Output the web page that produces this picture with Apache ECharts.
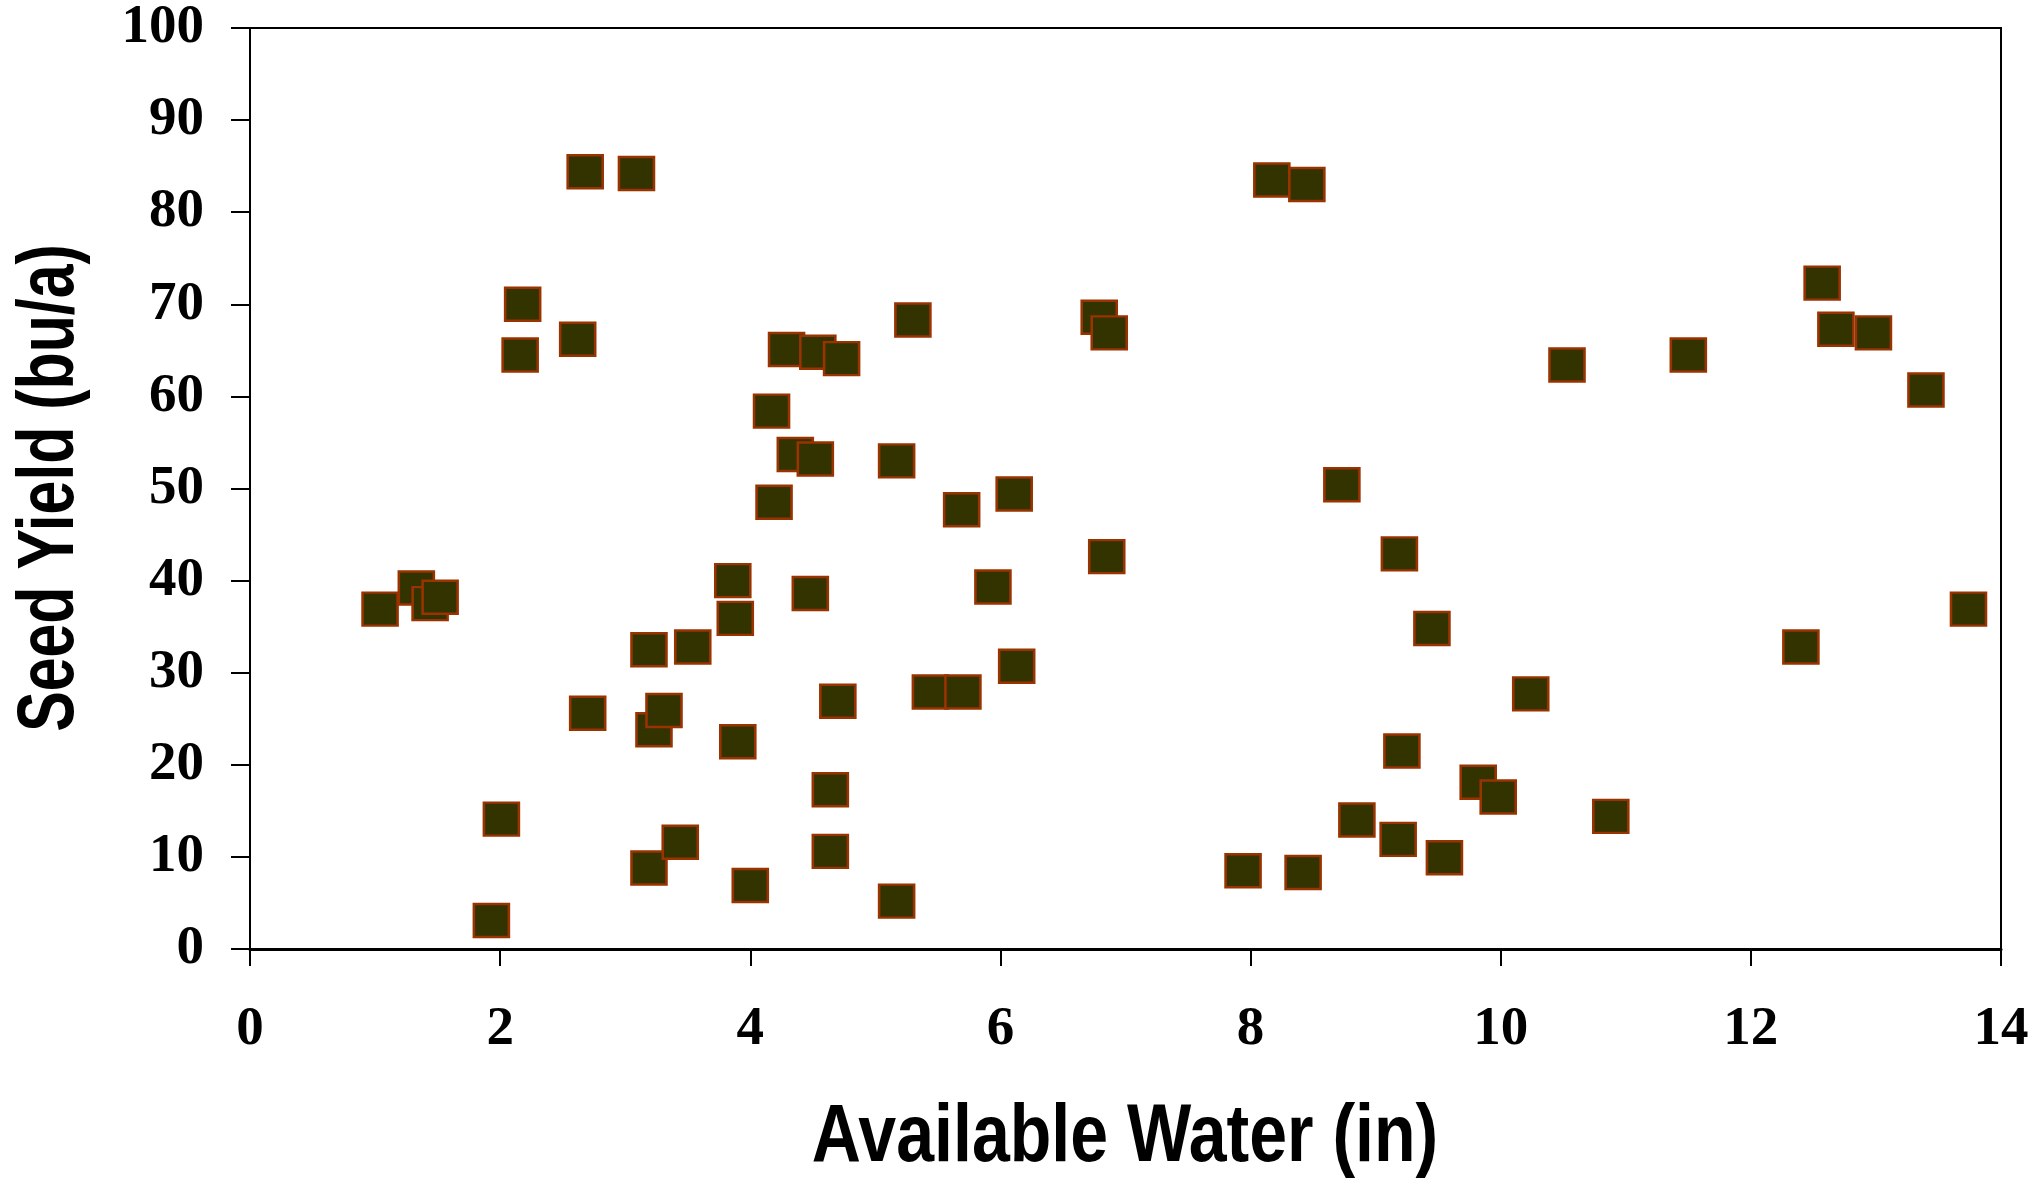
<!DOCTYPE html>
<html>
<head>
<meta charset="utf-8">
<title>Seed Yield vs Available Water</title>
<script src="https://cdn.jsdelivr.net/npm/echarts@6/dist/echarts.min.js"></script>
<style>
	html, body { margin: 0; padding: 0; background: #fff; }
	#chart { width: 2044px; height: 1178px; }
</style>
</head>
<body>
<div id="chart"></div>
<script>
// available water (in)
var water = [
	1.04, 1.33, 1.44, 1.52, 1.93, 2.01, 2.16, 2.18, 2.62, 2.68,
	2.70, 3.09, 3.19, 3.19, 3.23, 3.31, 3.44, 3.54, 3.86, 3.88,
	3.90, 4.00, 4.17, 4.19, 4.29, 4.36, 4.52, 4.54, 4.48, 4.73,
	4.64, 4.64, 4.70, 5.17, 5.17, 5.30, 5.44, 5.70, 5.69, 5.94,
	6.11, 6.13, 6.79, 6.87, 6.85, 7.94, 8.17, 8.45, 8.42, 8.73,
	8.85, 9.19, 9.21, 9.18, 9.45, 9.55, 9.82, 9.98, 10.24, 10.53,
	10.88, 11.50, 12.40, 12.57, 12.68, 12.98, 13.40, 13.74
];
// seed yield (bu/a)
var seedYield = [
	36.9, 39.2, 37.5, 38.2, 3.1, 14.1, 64.5, 70.0, 66.2, 84.4,
	25.6, 84.2, 32.5, 8.8, 23.8, 25.9, 11.6, 32.8, 40.0, 35.9,
	22.5, 6.9, 58.4, 48.5, 65.1, 53.7, 53.2, 64.8, 38.6, 64.1,
	17.3, 10.6, 26.9, 53.0, 5.2, 68.3, 27.9, 27.9, 47.7, 39.3,
	49.4, 30.7, 68.6, 66.9, 42.6, 8.5, 83.5, 83.0, 8.3, 50.4,
	14.0, 42.9, 21.5, 11.9, 34.8, 9.9, 18.1, 16.5, 27.7, 63.4,
	14.4, 64.5, 32.8, 72.3, 67.3, 66.9, 60.7, 36.9
];
var xTicks = { min: 0, max: 14, interval: 2 };
var yTicks = { min: 0, max: 100, interval: 10 };
var xTitle = 'Available Water (in)';
var yTitle = 'Seed Yield (bu/a)';

var points = [];
for (var i = 0; i < water.length; i++) {
	points.push([water[i], seedYield[i]]);
}

var tickFont = {
	fontFamily: 'Liberation Serif',
	fontWeight: 'bold',
	fontSize: 55,
	color: '#000'
};

var myChart = echarts.init(document.getElementById('chart'), null, { renderer: 'canvas' });
var option = {
	backgroundColor: '#fff',
	animation: false,
	grid: {
		left: 250,
		right: 43,
		top: 28,
		bottom: 229,
		show: true,
		borderColor: '#000',
		borderWidth: 2,
		outerBoundsMode: 'none'
	},
	// axis titles are set in a narrow bold sans, so squeeze Liberation Sans
	graphic: [{
		type: 'text',
		x: 1125,
		y: 1138,
		scaleX: 0.83,
		style: {
			text: xTitle,
			font: 'bold 82px "Liberation Sans"',
			fill: '#000',
			align: 'center',
			verticalAlign: 'middle'
		}
	}, {
		type: 'text',
		x: 51,
		y: 488,
		rotation: Math.PI / 2,
		scaleX: 0.76,
		style: {
			text: yTitle,
			font: 'bold 80px "Liberation Sans"',
			fill: '#000',
			align: 'center',
			verticalAlign: 'middle'
		}
	}],
	xAxis: {
		type: 'value',
		min: xTicks.min,
		max: xTicks.max,
		interval: xTicks.interval,
		axisLine: { show: true, onZero: false, lineStyle: { color: '#000', width: 3 } },
		axisTick: { show: true, length: 17, lineStyle: { color: '#000', width: 2 } },
		axisLabel: Object.assign({ margin: 53 }, tickFont),
		splitLine: { show: false }
	},
	yAxis: {
		type: 'value',
		min: yTicks.min,
		max: yTicks.max,
		interval: yTicks.interval,
		axisLine: { show: true, onZero: false, lineStyle: { color: '#000', width: 2 } },
		axisTick: { show: true, length: 19, lineStyle: { color: '#000', width: 2 } },
		axisLabel: Object.assign({ margin: 46 }, tickFont),
		splitLine: { show: false }
	},
	series: [{
		type: 'scatter',
		data: points,
		symbol: 'rect',
		symbolSize: [35, 33],
		itemStyle: {
			color: '#333300',
			borderColor: '#993300',
			borderWidth: 2.5,
			opacity: 1
		}
	}]
};
myChart.setOption(option);
</script>
</body>
</html>
